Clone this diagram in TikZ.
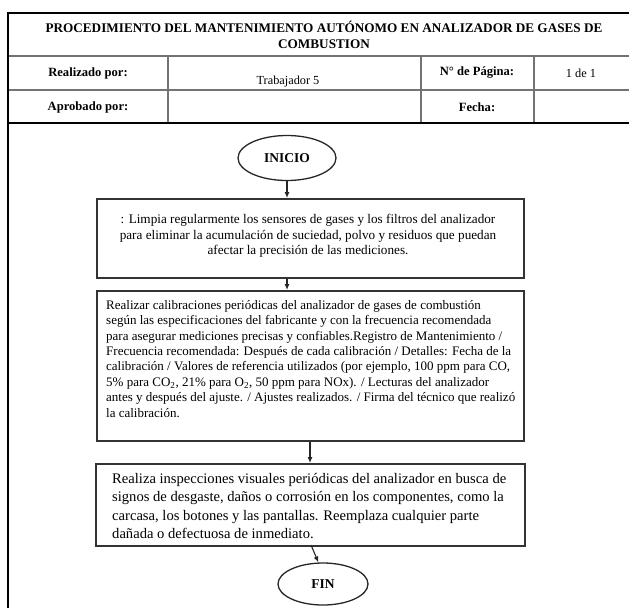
\documentclass[tikz,border=0pt]{standalone}
\usepackage{fontspec}
\setmainfont{Liberation Serif}
\usetikzlibrary{shapes.geometric,arrows.meta}
\tikzset{
  frameline/.style={line width=1.2pt,black},
  gridline/.style={line width=1.4pt,black!55},
  hdr/.style={font=\fontsize{12.6}{14}\selectfont\bfseries,inner sep=0pt},
  hval/.style={font=\fontsize{12.3}{14}\selectfont,inner sep=0pt},
  term/.style={ellipse,draw=black!85,line width=1.3pt,minimum width=98pt,minimum height=45pt,inner sep=0pt,font=\fontsize{13.5}{15}\selectfont\bfseries},
  procbox/.style={draw=black!80,line width=1.6pt,inner sep=0pt,anchor=north west},
  boxtext/.style={inner sep=0pt,align=left,anchor=north west},
  flow/.style={line width=1.1pt,black!85,-{Latex[length=6pt,width=5pt]}}
}
\begin{document}
\begin{tikzpicture}[x=1pt,y=-1pt]
\useasboundingbox (0,0) rectangle (629,608);
% header table
\draw[gridline] (8,56) -- (629,56);
\draw[gridline] (8,90) -- (629,90);
\draw[gridline] (168,56) -- (168,123);
\draw[gridline] (421,56) -- (421,123);
\draw[gridline] (534,56) -- (534,123);
\draw[frameline] (629,13) -- (8,13) -- (8,608);
\draw[frameline] (8,123) -- (629,123);
\node[hdr,align=center,font=\fontsize{13.2}{15.5}\selectfont\bfseries] (title) at (324,35) {PROCEDIMIENTO DEL MANTENIMIENTO AUTÓNOMO EN ANALIZADOR DE GASES DE\\COMBUSTION};
\node[hdr] (realizado) at (88,73) {Realizado por:};
\node[hval] (trabajador) at (288,82) {Trabajador 5};
\node[hdr] (pagina) at (477,73) {N° de Página:};
\node[hval] (pagnum) at (581,73) {1 de 1};
\node[hdr] (aprobado) at (88,107) {Aprobado por:};
\node[hdr] (fecha) at (477,107) {Fecha:};
% flowchart
\node[term] (inicio) at (287,158) {INICIO};
\node[procbox,minimum width=427pt,minimum height=79pt] (b1) at (96,198) {};
\node[inner sep=0pt,align=center,font=\fontsize{13.2}{15.5}\selectfont] (t1) at (308,236) {: Limpia regularmente los sensores de gases y los filtros del analizador\\para eliminar la acumulación de suciedad, polvo y residuos que puedan\\afectar la precisión de las mediciones.};
\node[procbox,minimum width=427pt,minimum height=150pt] (b2) at (96,290) {};
\node[boxtext,font=\fontsize{13}{15.4}\selectfont] (t2) at (106,300) {Realizar calibraciones periódicas del analizador de gases de combustión\\según las especificaciones del fabricante y con la frecuencia recomendada\\para asegurar mediciones precisas y confiables.Registro de Mantenimiento /\\Frecuencia recomendada: Después de cada calibración / Detalles: Fecha de la\\calibración / Valores de referencia utilizados (por ejemplo, 100 ppm para CO,\\5\% para CO\textsubscript{2}, 21\% para O\textsubscript{2}, 50 ppm para NOx). / Lecturas del analizador\\antes y después del ajuste. / Ajustes realizados. / Firma del técnico que realizó\\la calibración.};
\node[procbox,minimum width=429pt,minimum height=82pt] (b3) at (95,463) {};
\node[boxtext,font=\fontsize{14.6}{18.4}\selectfont] (t3) at (112,473) {Realiza inspecciones visuales periódicas del analizador en busca de\\signos de desgaste, daños o corrosión en los componentes, como la\\carcasa, los botones y las pantallas. Reemplaza cualquier parte\\dañada o defectuosa de inmediato.};
\node[term,minimum width=90pt,minimum height=42pt] (fin) at (323,584) {FIN};
% connectors
\draw[flow] (inicio.south) -- (inicio.south |- b1.north);
\draw[flow] (b1.south -| 287,0) -- (b2.north -| 287,0);
\draw[flow] (b2.south -| 310,0) -- (b3.north -| 310,0);
\coordinate (c4) at (311,545);
\draw[flow] (c4) -- (fin.102);
\end{tikzpicture}
\end{document}
